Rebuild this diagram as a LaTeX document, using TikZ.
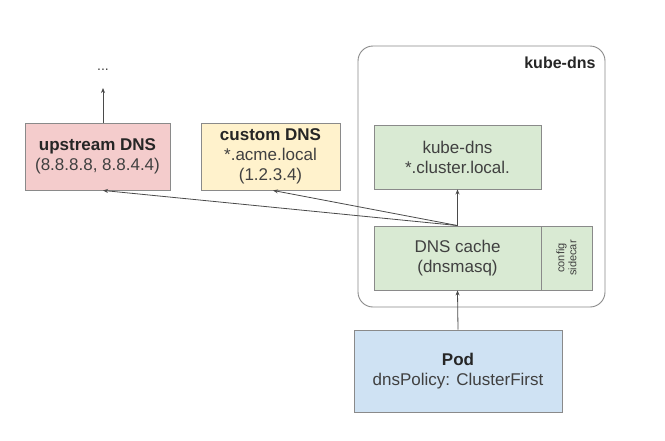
\documentclass[tikz,border=0pt]{standalone}
\usepackage{fontspec}
\setmainfont{Liberation Sans}
\usetikzlibrary{arrows.meta,calc}
\definecolor{bordr}{HTML}{8A8A8A}
\definecolor{linec}{HTML}{4A4A4A}
\definecolor{txt}{HTML}{404040}
\definecolor{upfill}{HTML}{F4CCCC}
\definecolor{cufill}{HTML}{FFF2CC}
\definecolor{grfill}{HTML}{D9EAD3}
\definecolor{pofill}{HTML}{CFE2F3}
\tikzset{
  boxn/.style={draw=bordr, line width=0.9pt, inner sep=0pt, align=center,
    font=\fontsize{17}{20}\selectfont, text=txt},
  conn/.style={draw=linec, line width=0.8pt, -{Stealth[length=5pt,width=4pt]}},
}
\begin{document}
\begin{tikzpicture}[x=1pt,y=-1pt]
\useasboundingbox[fill=white] (0,0) rectangle (665,440);
% container
\draw[draw=bordr, line width=0.9pt, rounded corners=15pt] (358,46) rectangle (605,307);
\node[font=\fontsize{16}{19}\selectfont\bfseries, text=black!85, anchor=east] (kdlabel) at (599,63) {kube-dns};
% boxes
\node[boxn, fill=upfill, minimum width=145pt, minimum height=67pt] (up) at (97.5,156.5)
  {\textbf{\color{black!85}upstream DNS}\\(8.8.8.8, 8.8.4.4)};
\node[boxn, fill=cufill, minimum width=139pt, minimum height=67pt] (cust) at (270.5,156.5)
  {\textbf{\color{black!85}custom DNS}\\*.acme.local\\(1.2.3.4)};
\node[boxn, fill=grfill, minimum width=167pt, minimum height=64pt] (kd) at (457.5,157)
  {kube-dns\\*.cluster.local.};
\node[boxn, fill=grfill, minimum width=167pt, minimum height=64pt] (cache) at (457.5,258)
  {DNS cache\\(dnsmasq)};
\node[boxn, fill=grfill, minimum width=51pt, minimum height=64pt] (side) at (566.5,258) {};
\node[font=\fontsize{11}{12}\selectfont, text=txt, rotate=90, align=center] (sidetxt) at (side.center) {config\\sidecar};
\node[boxn, fill=pofill, minimum width=208pt, minimum height=82pt] (pod) at (458,371)
  {\textbf{\color{black!85}Pod}\\dnsPolicy: ClusterFirst};
\node[font=\fontsize{14}{16}\selectfont, text=txt, inner sep=1pt] (dots) at (103,70) {...};
% connectors
\coordinate (upin) at ([xshift=5.5pt]up.south);
\coordinate (cuin) at ([xshift=2.5pt]cust.south);
\coordinate (upout) at ([xshift=5.5pt]up.north);
\coordinate (dotin) at (103,88);
\draw[conn] (upout) -- (dotin);
\draw[conn] (cache.north) -- (kd.south);
\draw[conn] (pod.north) -- (cache.south);
\draw[conn] (cache.north) -- (upin);
\draw[conn] (cache.north) -- (cuin);
\end{tikzpicture}
\end{document}
